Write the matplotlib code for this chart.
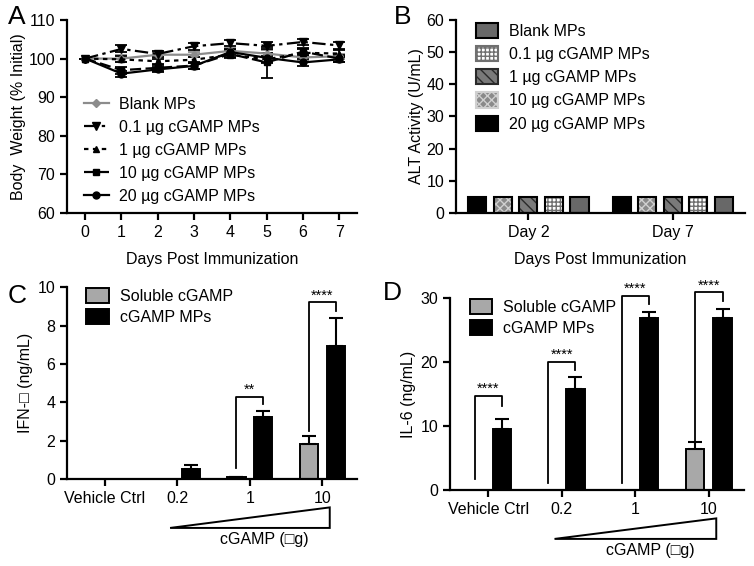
import numpy as np
import matplotlib
matplotlib.use('agg')
import matplotlib.pyplot as plt
from matplotlib.patches import Polygon
from matplotlib.lines import Line2D
import matplotlib.transforms as mtransforms

plt.rcParams['font.family'] = ['Liberation Sans', 'DejaVu Sans']
plt.rcParams['font.size'] = 11
plt.rcParams['hatch.linewidth'] = 1.0

# ---- panel A: body weight ----
days = [0, 1, 2, 3, 4, 5, 6, 7]
groups = ['Blank MPs', '0.1 µg cGAMP MPs', '1 µg cGAMP MPs', '10 µg cGAMP MPs', '20 µg cGAMP MPs']
w_blank = [100, 100.0, 101.0, 101.0, 102.0, 101.3, 100.3, 100.6]
w_01 = [100, 102.5, 101.2, 103.2, 104.0, 103.3, 104.3, 103.4]
w_1 = [100, 99.8, 99.3, 99.7, 101.0, 99.8, 101.5, 101.3]
w_10 = [100, 97.0, 97.6, 98.2, 101.2, 99.0, 101.8, 100.0]
w_20 = [100, 96.1, 97.2, 98.1, 101.7, 100.2, 99.0, 99.8]
e_blank = [0, 0.8, 0.6, 0.6, 0.8, 1.0, 0.8, 0.7]
e_01 = [0, 0.9, 0.7, 0.9, 0.8, 0.9, 0.8, 0.8]
e_1 = [0, 0.8, 0.7, 0.8, 0.9, 0.9, 0.9, 0.8]
e_10 = [0, 0.9, 0.8, 0.8, 0.9, 4.0, 0.9, 0.8]
e_20 = [0, 0.8, 0.7, 0.8, 0.8, 1.2, 0.9, 0.8]

# ---- panel B: ALT activity ----
alt_days = ['Day 2', 'Day 7']
alt_blank = [5.0, 5.0]
alt_01 = [5.0, 5.0]
alt_1 = [5.0, 5.0]
alt_10 = [5.0, 5.0]
alt_20 = [5.0, 5.0]

# ---- panels C/D ----
doses = ['Vehicle Ctrl', '0.2', '1', '10']
ifn_sol = [0, 0, 0.08, 1.85]
ifn_sol_err = [0, 0, 0.03, 0.4]
ifn_mp = [0, 0.52, 3.25, 6.95]
ifn_mp_err = [0, 0.2, 0.3, 1.45]
il6_sol = [0, 0, 0, 6.4]
il6_sol_err = [0, 0, 0, 1.1]
il6_mp = [9.55, 15.85, 26.85, 26.85]
il6_mp_err = [1.55, 1.8, 1.0, 1.4]

fig = plt.figure(figsize=(7.54, 5.66), dpi=100)
axA = fig.add_axes([0.0889, 0.6237, 0.385, 0.341])
axB = fig.add_axes([0.605, 0.6237, 0.383, 0.341])
axC = fig.add_axes([0.0889, 0.1537, 0.385, 0.339])
axD = fig.add_axes([0.597, 0.1343, 0.39, 0.339])

for ax in (axA, axB, axC, axD):
    ax.spines['top'].set_visible(False)
    ax.spines['right'].set_visible(False)
    ax.spines['left'].set_linewidth(1.6)
    ax.spines['bottom'].set_linewidth(1.6)
    ax.tick_params(width=1.6, length=5, labelsize=11.5)

# A
styles = [
    (w_blank, e_blank, '#8c8c8c', 'D', '-', 4),
    (w_01, e_01, 'black', 'v', (0, (6, 2, 1.5, 2)), 6),
    (w_1, e_1, 'black', '^', (0, (2, 2)), 5),
    (w_10, e_10, 'black', 's', (0, (5, 2)), 5),
    (w_20, e_20, 'black', 'o', '-', 5),
]
a_handles = []
for (vals, err, col, mk, ls, ms), lab in zip(styles, groups):
    axA.errorbar(days, vals, yerr=err, color=col, marker=mk, linestyle=ls, markersize=ms,
                 linewidth=1.6, capsize=4, elinewidth=1.3, capthick=1.3)
    a_handles.append(Line2D([], [], color=col, marker=mk, linestyle=ls, markersize=ms,
                            linewidth=1.6))
axA.set_xlim(-0.5, 7.5)
axA.set_ylim(60, 110)
axA.set_xticks(days)
axA.set_yticks(range(60, 111, 10))
axA.set_xlabel('Days Post Immunization', labelpad=9, fontsize=11.5)
axA.set_ylabel('Body  Weight (% Initial)', fontsize=11.5, labelpad=2)
axA.legend(a_handles, groups, loc='upper left', bbox_to_anchor=(0.035, 0.635), frameon=False,
           handlelength=1.6, handletextpad=0.6, labelspacing=0.5, borderaxespad=0, fontsize=11.5)

# B
x = np.arange(len(alt_days))
bw = 0.125
step = 0.177
b_series = [
    (alt_20, 'black', None, 'black'),
    (alt_10, '#8a8a8a', 'xxxx', '#d0d0d0'),
    (alt_1, '#7a7a7a', '\\\\\\', '#2a2a2a'),
    (alt_01, 'white', '++++', '#707070'),
    (alt_blank, '#686868', None, 'black'),
]
b_labels = [groups[4], groups[3], groups[2], groups[1], groups[0]]
handles = {}
for i, ((vals, fc, hatch, hc), lab) in enumerate(zip(b_series, b_labels)):
    bars = axB.bar(x + (i - 2) * step, vals, width=bw, color=fc, edgecolor=hc if hatch else 'black',
                   hatch=hatch, linewidth=0, label=lab)
    axB.bar(x + (i - 2) * step, vals, width=bw, color='none', edgecolor='black', linewidth=1.5)
    handles[lab] = bars
axB.set_xlim(-0.5, 1.5)
axB.set_ylim(0, 60)
axB.set_xticks(x)
axB.set_xticklabels(alt_days)
axB.set_yticks(range(0, 61, 10))
axB.set_xlabel('Days Post Immunization', labelpad=9, fontsize=11.5)
axB.set_ylabel('ALT Activity (U/mL)', fontsize=11.5, labelpad=2)
leg = axB.legend([handles[g] for g in groups], groups, loc='upper left', bbox_to_anchor=(0.045, 1.02),
                 frameon=False, handlelength=1.4, handleheight=1.1, handletextpad=0.7,
                 labelspacing=0.45, borderaxespad=0, fontsize=11.5)
for p in leg.get_patches():
    p.set_linewidth(1.5)


def bar_panel(ax, sol, sol_err, mp, mp_err, ymax, ystep, ylabel, brackets):
    xi = np.arange(len(doses))
    off = 0.185
    w = 0.25
    ax.bar(xi - off, sol, w, color='#a8a8a8', edgecolor='black', linewidth=1.4, label='Soluble cGAMP')
    ax.bar(xi + off, mp, w, color='black', edgecolor='black', linewidth=1.4, label='cGAMP MPs')
    for xs, v, e in zip(xi - off, sol, sol_err):
        if e > 0:
            ax.errorbar(xs, v, yerr=[[0], [e]], color='black', capsize=5, elinewidth=1.5, capthick=1.5)
    for xs, v, e in zip(xi + off, mp, mp_err):
        if e > 0:
            ax.errorbar(xs, v, yerr=[[0], [e]], color='black', capsize=5, elinewidth=1.5, capthick=1.5)
    for idx, lo_left, lo_right, top, txt in brackets:
        ax.plot([idx - off, idx - off, idx + off, idx + off], [lo_left, top, top, lo_right],
                color='black', linewidth=1.3, clip_on=False)
        ax.text(idx, top, txt, ha='center', va='bottom', fontsize=10.5)
    ax.set_xlim(-0.52, 3.48)
    ax.set_ylim(0, ymax)
    ax.set_xticks(xi)
    ax.set_xticklabels(doses)
    ax.set_yticks(np.arange(0, ymax + 0.1, ystep))
    ax.set_ylabel(ylabel, fontsize=11.5, labelpad=3)
    ax.legend(loc='upper left', bbox_to_anchor=(0.045, 1.03), frameon=False, handlelength=1.4,
              handleheight=1.1, handletextpad=0.7, labelspacing=0.3, borderaxespad=0, fontsize=11.5)
    # dose triangle
    trans = mtransforms.blended_transform_factory(ax.transData, ax.transAxes)
    tri = Polygon([[0.9, -0.255], [3.1, -0.255], [3.1, -0.148]], closed=True, fill=False,
                  edgecolor='black', linewidth=1.4, transform=trans, clip_on=False)
    ax.add_patch(tri)
    ax.text(2.2, -0.315, 'cGAMP (□g)', transform=trans, ha='center', va='center', fontsize=11.5)


bar_panel(axC, ifn_sol, ifn_sol_err, ifn_mp, ifn_mp_err, 10, 2, 'IFN-□ (ng/mL)',
          [(2, 0.57, 3.92, 4.27, '**'), (3, 2.48, 8.73, 9.2, '****')])
bar_panel(axD, il6_sol, il6_sol_err, il6_mp, il6_mp_err, 30, 10, 'IL-6 (ng/mL)',
          [(0, 1.66, 13.2, 14.66, '****'), (1, 1.14, 18.7, 19.97, '****'),
           (2, 1.14, 29.1, 30.3, '****'), (3, 6.6, 29.5, 30.9, '****')])

for lab, xp, yp in [('A', 17, 17), ('B', 403, 17), ('C', 17, 296), ('D', 392, 293)]:
    fig.text(xp / 754, 1 - yp / 566, lab, fontsize=19, ha='center', va='center')

fig.savefig('out.png', dpi=100)
